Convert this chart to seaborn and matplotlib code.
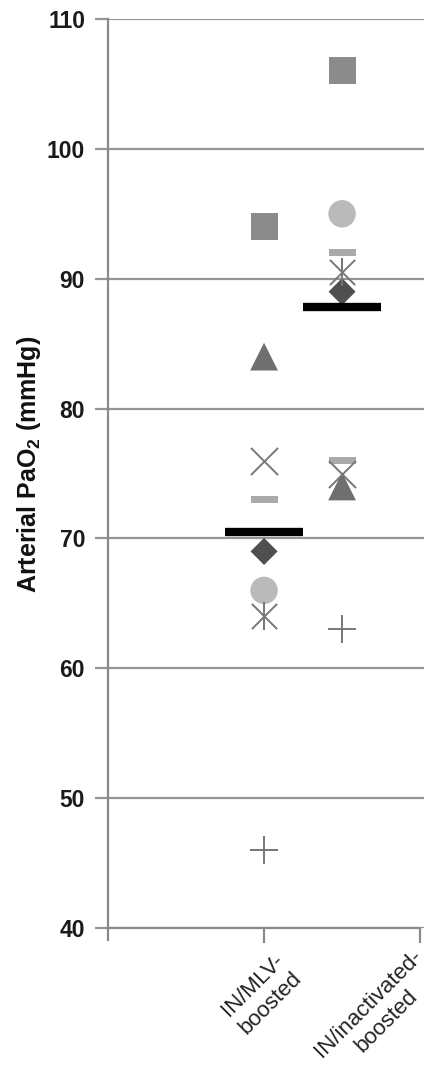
import numpy as np
import pandas as pd
import matplotlib
matplotlib.use('Agg')
import matplotlib.pyplot as plt
import seaborn as sns

# values (mmHg)
groups = [('IN/MLV-', 'boosted'), ('IN/inactivated-', 'boosted')]
mlv_markers = ['square', 'triangle', 'x', 'dash', 'diamond', 'circle', 'asterisk', 'plus']
mlv_values = [94, 84, 76, 73, 69, 66, 64, 46]
inact_markers = ['square', 'circle', 'dash', 'asterisk', 'diamond', 'dash', 'x', 'triangle', 'plus']
inact_values = [106, 95, 92, 90.5, 89, 76, 75, 74, 63]
group_means = [70.5, 87.8]

point_x = [1.0, 1.5]   # where each group's points sit
tick_x = [1.0, 2.0]    # where the category ticks/labels sit

df = pd.DataFrame({
    'x': [point_x[0]] * len(mlv_values) + [point_x[1]] * len(inact_values),
    'value': mlv_values + inact_values,
    'marker': mlv_markers + inact_markers,
})

sns.set_style('white')
plt.rcParams['font.family'] = ['Liberation Sans', 'DejaVu Sans']
plt.rcParams['mathtext.fontset'] = 'custom'
plt.rcParams['mathtext.rm'] = 'Liberation Sans'
plt.rcParams['mathtext.bf'] = 'Liberation Sans:bold'

fig = plt.figure(figsize=(4.32, 10.70), dpi=100)
ax = fig.add_axes([108 / 432, 1 - 928 / 1070, (424 - 108) / 432, (928 - 19) / 1070])

dash = [(-1, -0.24), (1, -0.24), (1, 0.24), (-1, 0.24), (-1, -0.24)]
styles = {
    'square':   dict(marker='s', s=380, color='#8b8b8b', lw=0),
    'circle':   dict(marker='o', s=390, color='#bababa', lw=0),
    'dash':     dict(marker=dash, s=380, color='#a9a9a9', lw=0),
    'triangle': dict(marker='^', s=400, color='#6f6f6f', lw=0),
    'diamond':  dict(marker='D', s=190, color='#4f4f4f', lw=0),
    'x':        dict(marker='x', s=380, color='#777777', lw=1.4),
    'asterisk': dict(marker='x', s=330, color='#777777', lw=1.4),
    'plus':     dict(marker='+', s=400, color='#777777', lw=1.4),
}
for name, st in styles.items():
    sub = df[df['marker'] == name]
    sns.scatterplot(data=sub, x='x', y='value', ax=ax, marker=st['marker'], s=st['s'],
                    color=st['color'], linewidth=st['lw'],
                    edgecolor='none' if st['lw'] == 0 else st['color'], zorder=3)
    if name == 'asterisk':
        sns.scatterplot(data=sub, x='x', y='value', ax=ax, marker='|', s=380,
                        color=st['color'], linewidth=1.4, edgecolor=st['color'], zorder=3)

# group mean bars
ax.hlines(group_means, np.array(point_x) - 0.25, np.array(point_x) + 0.25,
          color='black', lw=6, zorder=4)

ax.set_xlim(0, 2.025)
ax.set_ylim(40, 110)
ax.set_yticks(range(40, 111, 10))
ax.yaxis.grid(True, color='#959595', lw=1.6)
ax.set_axisbelow(True)

for side in ['top', 'right']:
    ax.spines[side].set_visible(False)
for side in ['left', 'bottom']:
    ax.spines[side].set_color('#8a8a8a')
    ax.spines[side].set_linewidth(1.6)
ax.spines['bottom'].set_bounds(0, 2)
ax.spines['left'].set_bounds(39.1, 110)

ax.tick_params(axis='y', direction='out', length=9.5, width=1.6, color='#959595',
               labelsize=16.5, pad=7, left=True, labelcolor='#1a1a1a')
ax.tick_params(axis='x', direction='out', length=11, width=1.6, color='#8a8a8a',
               bottom=True)
for lab in ax.get_yticklabels():
    lab.set_fontweight('bold')

# category labels: two centred lines each, rotated 45 degrees
ax.set_xticks(tick_x)
ax.set_xticklabels(['', ''])
line_step = 18  # px between the two lines, along the down-right diagonal
for (first, second), xt, (dx, dy) in zip(groups, tick_x, [(-19, -50), (-59, -68)]):
    for k, txt in enumerate([first, second]):
        ax.annotate(txt, xy=(xt, 0), xycoords=ax.get_xaxis_transform(),
                    xytext=(dx + k * line_step, dy - k * line_step), textcoords='offset pixels',
                    rotation=45, rotation_mode='anchor', ha='center', va='top',
                    fontsize=16, color='#222222', annotation_clip=False)

ax.set_xlabel('')
ax.set_ylabel(r'Arterial PaO$_\mathbf{2}$ (mmHg)', fontsize=18, fontweight='bold', color='#111111')
ax.yaxis.set_label_coords(-0.205, 0.51)

fig.savefig('out.png', dpi=100)
